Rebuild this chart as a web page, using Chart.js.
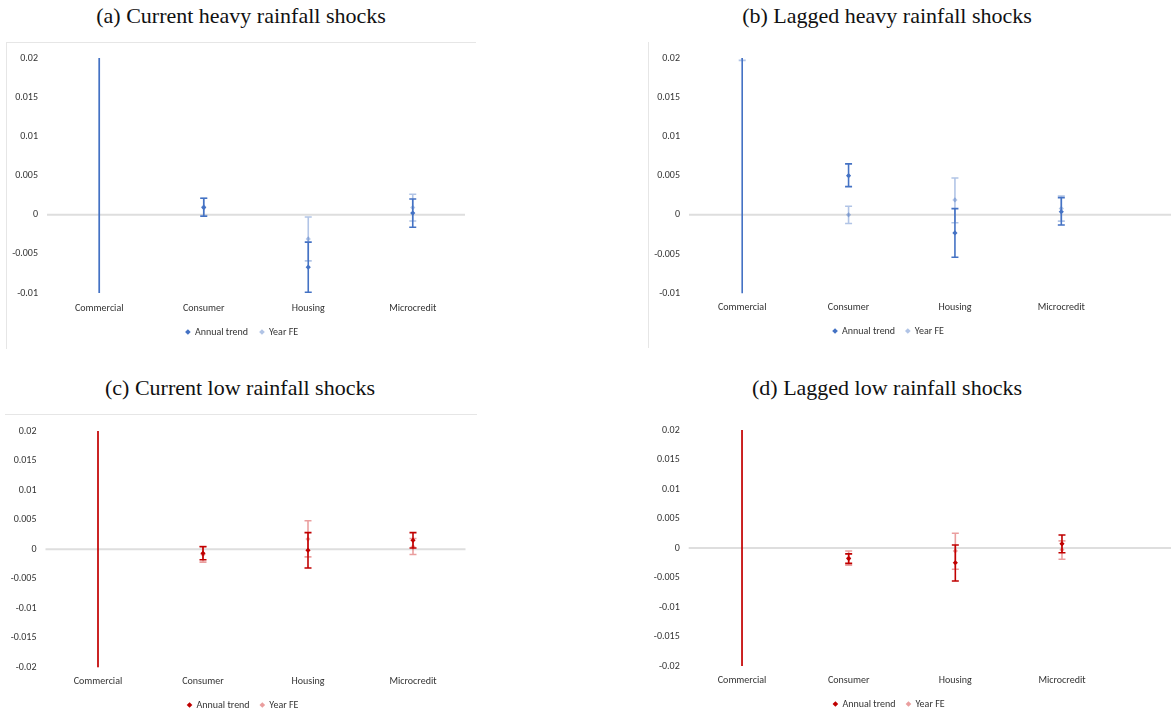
<!DOCTYPE html>
<html>
<head>
<meta charset="utf-8">
<script src="https://cdn.jsdelivr.net/npm/chart.js@4.4.1/dist/chart.umd.min.js"></script>
<style>
  html, body { margin: 0; padding: 0; background: #fff; }
  body { width: 1171px; height: 716px; position: relative; overflow: hidden; }
  .titulo { position: absolute; width: 400px; text-align: center; font-family: "Liberation Serif", serif; font-size: 22px; line-height: 24px; color: #111; }
  .marco { position: absolute; border: 0 solid #e6e6e6; }
  canvas { position: absolute; }
</style>
</head>
<body>
<div class="titulo" style="left:41px; top:4px;">(a) Current heavy rainfall shocks</div>
<div class="titulo" style="left:687px; top:4px;">(b) Lagged heavy rainfall shocks</div>
<div class="titulo" style="left:40px; top:376px;">(c) Current low rainfall shocks</div>
<div class="titulo" style="left:687px; top:376px;">(d) Lagged low rainfall shocks</div>

<div class="marco" style="left:6px; top:42px; width:469px; height:306px; border-left-width:1px; border-top-width:1px;"></div>
<div class="marco" style="left:648px; top:42px; width:1px; height:306px; border-left-width:1px;"></div>
<div class="marco" style="left:5px; top:414px; width:472px; height:1px; border-top-width:1px;"></div>

<canvas id="grafA" style="left:0px; top:43px;" width="480" height="304"></canvas>
<canvas id="grafB" style="left:596px; top:43px;" width="575" height="303"></canvas>
<canvas id="grafC" style="left:0px; top:416px;" width="482" height="304"></canvas>
<canvas id="grafD" style="left:596px; top:415px;" width="575" height="304"></canvas>

<script>
const categorias = ['Commercial', 'Consumer', 'Housing', 'Microcredit'];
const series = ['Annual trend', 'Year FE'];
const rangoHeavy = [-0.01, 0.02];
const rangoLow = [-0.02, 0.02];
const pasoY = 0.005;

// (a) current heavy rainfall
const heavyNowTrend = [0.03, 0.0009, -0.0067, 0.0002];
const heavyNowTrendLo = [-0.05, -0.0002, -0.0099, -0.0016];
const heavyNowTrendHi = [0.11, 0.0021, -0.0035, 0.0020];
const heavyNowFE = [0.035, 0.0010, -0.0031, 0.0009];
const heavyNowFELo = [-0.04, -0.0001, -0.0059, -0.0008];
const heavyNowFEHi = [0.10, 0.0021, -0.0003, 0.0026];

// (b) lagged heavy rainfall
const heavyLagTrend = [0.03, 0.0050, -0.0023, 0.0004];
const heavyLagTrendLo = [-0.06, 0.0036, -0.0054, -0.0013];
const heavyLagTrendHi = [0.12, 0.0065, 0.0008, 0.0022];
const heavyLagFE = [0.045, 0.0000, 0.0019, 0.0008];
const heavyLagFELo = [0.0197, -0.0011, -0.0010, -0.0008];
const heavyLagFEHi = [0.07, 0.0011, 0.0047, 0.0024];

// (c) current low rainfall
const lowNowTrend = [0.03, -0.0007, -0.0002, 0.0015];
const lowNowTrendLo = [-0.08, -0.0018, -0.0032, 0.0002];
const lowNowTrendHi = [0.14, 0.0004, 0.0028, 0.0028];
const lowNowFE = [0.035, -0.0009, 0.0017, 0.0004];
const lowNowFELo = [-0.07, -0.0022, -0.0013, -0.0009];
const lowNowFEHi = [0.14, 0.0005, 0.0048, 0.0018];

// (d) lagged low rainfall
const lowLagTrend = [0.03, -0.0018, -0.0025, 0.0007];
const lowLagTrendLo = [-0.08, -0.0026, -0.0056, -0.0008];
const lowLagTrendHi = [0.14, -0.0010, 0.0005, 0.0022];
const lowLagFE = [0.035, -0.0017, -0.0005, -0.0003];
const lowLagFELo = [-0.07, -0.0029, -0.0036, -0.0019];
const lowLagFEHi = [0.14, -0.0005, 0.0025, 0.0012];

const azul = '#4472C4';
const azulClaro = 'rgba(68,114,196,0.42)';
const rojo = '#C00000';
const rojoClaro = 'rgba(200,0,0,0.38)';
const fuente = 'Carlito, Lato, sans-serif';
const gris = '#333333';

// error bars + zero line, clipped to the plot area
const barrasError = {
  id: 'barrasError',
  beforeDatasetsDraw(chart, args, opts) {
    const { ctx, chartArea, scales } = chart;
    const x = scales.x, y = scales.y;
    ctx.save();
    const y0 = y.getPixelForValue(0);
    ctx.strokeStyle = '#dedede';
    ctx.lineWidth = 2;
    ctx.beginPath();
    ctx.moveTo(chartArea.left, y0);
    ctx.lineTo(opts.ceroHastaBorde ? chart.width : chartArea.right, y0);
    ctx.stroke();

    ctx.beginPath();
    ctx.rect(chartArea.left, chartArea.top, chartArea.width, chartArea.height);
    ctx.clip();
    chart.data.datasets.forEach(ds => {
      ctx.strokeStyle = ds.borderColor;
      ctx.lineWidth = 1.6;
      ds.bajo.forEach((lo, j) => {
        const px = x.getPixelForValue(j);
        const yl = y.getPixelForValue(lo);
        const yh = y.getPixelForValue(ds.alto[j]);
        ctx.beginPath();
        ctx.moveTo(px, yl); ctx.lineTo(px, yh);
        ctx.moveTo(px - 3.5, yl); ctx.lineTo(px + 3.5, yl);
        ctx.moveTo(px - 3.5, yh); ctx.lineTo(px + 3.5, yh);
        ctx.stroke();
      });
    });
    ctx.restore();
  }
};

function serie(label, datos, lo, hi, color) {
  return {
    label: label,
    data: datos,
    bajo: lo,
    alto: hi,
    yAxisID: 'y',
    showLine: false,
    borderColor: color,
    backgroundColor: color,
    borderWidth: 0,
    pointStyle: 'rectRot',
    pointRadius: 2.6,
    pointBorderWidth: 0,
    pointBackgroundColor: color
  };
}

function crearGrafica(id, cfg) {
  return new Chart(document.getElementById(id), {
    type: 'line',
    data: {
      labels: categorias,
      datasets: [
        serie(series[0], cfg.tendencia, cfg.tendenciaLo, cfg.tendenciaHi, cfg.color),
        serie(series[1], cfg.fe, cfg.feLo, cfg.feHi, cfg.colorClaro)
      ]
    },
    plugins: [barrasError],
    options: {
      responsive: false,
      animation: false,
      layout: { padding: { left: cfg.padIzq, right: cfg.padDer, top: 12, bottom: 0 } },
      plugins: {
        tooltip: { enabled: false },
        barrasError: { ceroHastaBorde: cfg.ceroHastaBorde },
        legend: {
          position: 'bottom',
          labels: {
            usePointStyle: true,
            boxWidth: 4,
            boxHeight: 4,
            padding: cfg.padLeyenda,
            color: gris,
            font: { family: fuente, size: 10 }
          }
        }
      },
      scales: {
        x: {
          offset: true,
          grid: { display: false, drawTicks: false },
          border: { display: false },
          ticks: { padding: cfg.padX, color: gris, font: { family: fuente, size: 10 } },
          afterFit: s => { s.height = 22; }
        },
        y: {
          min: cfg.rango[0],
          max: cfg.rango[1],
          grid: { display: false, drawTicks: false },
          border: { display: false },
          ticks: {
            stepSize: pasoY,
            padding: 9,
            color: gris,
            font: { family: fuente, size: 10 },
            callback: v => String(+v.toFixed(3))
          },
          afterFit: s => { s.width = cfg.anchoY; }
        },
        // empty right margin so the legend centres like the original
        yDer: {
          position: 'right',
          grid: { display: false, drawTicks: false },
          border: { display: false },
          ticks: { display: false },
          afterFit: s => { s.width = cfg.margenDer; }
        }
      }
    }
  });
}

crearGrafica('grafA', {
  tendencia: heavyNowTrend, tendenciaLo: heavyNowTrendLo, tendenciaHi: heavyNowTrendHi,
  fe: heavyNowFE, feLo: heavyNowFELo, feHi: heavyNowFEHi,
  color: azul, colorClaro: azulClaro, rango: rangoHeavy,
  padIzq: 6, padDer: 2, anchoY: 41, margenDer: 13, padX: 9, padLeyenda: 12, ceroHastaBorde: false
});
crearGrafica('grafB', {
  tendencia: heavyLagTrend, tendenciaLo: heavyLagTrendLo, tendenciaHi: heavyLagTrendHi,
  fe: heavyLagFE, feLo: heavyLagFELo, feHi: heavyLagFEHi,
  color: azul, colorClaro: azulClaro, rango: rangoHeavy,
  padIzq: 52, padDer: 42, anchoY: 41, margenDer: 14.5, padX: 8, padLeyenda: 10.7, ceroHastaBorde: true
});
crearGrafica('grafC', {
  tendencia: lowNowTrend, tendenciaLo: lowNowTrendLo, tendenciaHi: lowNowTrendHi,
  fe: lowNowFE, feLo: lowNowFELo, feHi: lowNowFEHi,
  color: rojo, colorClaro: rojoClaro, rango: rangoLow,
  padIzq: 6, padDer: 2, anchoY: 39.5, margenDer: 14.5, padX: 8.5, padLeyenda: 10.7, ceroHastaBorde: false
});
crearGrafica('grafD', {
  tendencia: lowLagTrend, tendenciaLo: lowLagTrendLo, tendenciaHi: lowLagTrendHi,
  fe: lowLagFE, feLo: lowLagFELo, feHi: lowLagFEHi,
  color: rojo, colorClaro: rojoClaro, rango: rangoLow,
  padIzq: 52, padDer: 41, anchoY: 40.7, margenDer: 14.7, padX: 8.5, padLeyenda: 11, ceroHastaBorde: true
});
</script>
</body>
</html>
